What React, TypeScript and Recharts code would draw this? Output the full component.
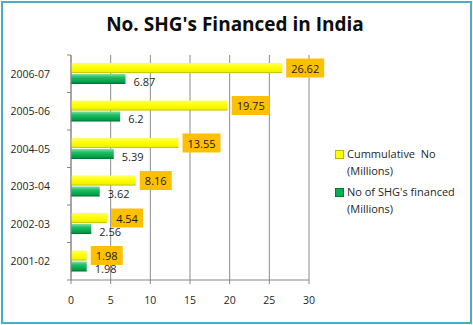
import { BarChart, Bar, XAxis, YAxis, CartesianGrid, Legend, LabelList } from 'recharts';

const years = ['2001-02', '2002-03', '2003-04', '2004-05', '2005-06', '2006-07'];
const cumulative = [1.98, 4.54, 8.16, 13.55, 19.75, 26.62];
const financed = [1.98, 2.56, 3.62, 5.39, 6.2, 6.87];
const xTicks = [0, 5, 10, 15, 20, 25, 30];

const data = years.map((year, i) => ({ year, cumulative: cumulative[i], financed: financed[i] }));

const FONT = '"Open Sans", "Noto Sans", sans-serif';
const PLOT_TOP = 55;
const PLOT_H = 225;
const BAND = PLOT_H / years.length;

const YTick = (props: any) => {
  const { x, y, payload, index } = props;
  const axisX = x + 21;
  return (
    <g>
      <line x1={axisX - 4} x2={axisX} y1={y - BAND / 2} y2={y - BAND / 2} stroke="#868686" />
      {index === 0 && (
        <line x1={axisX - 4} x2={axisX} y1={y + BAND / 2} y2={y + BAND / 2} stroke="#868686" />
      )}
      <text x={x} y={y} textAnchor="end" dominantBaseline="central" fontSize={10.5} fill="#262626" fontFamily={FONT}>
        {payload.value}
      </text>
    </g>
  );
};

// yellow bar label: orange box, plus the green value text drawn underneath it
// (green bar end found from the yellow bar's own scale ratio)
const YellowLabel = (props: any) => {
  const { x, y, width, height, value, index } = props;
  const text = Number(value).toFixed(2);
  const w = text.length * 6 + 8;
  const bx = x + width + 4;
  const cy = y + height / 2;
  const gEnd = x + (financed[index] / cumulative[index]) * width;
  const gy = y + height * 1.5 + 1 + 2;
  return (
    <g>
      <text x={gEnd + 8} y={gy} dominantBaseline="central" fontSize={11} fill="#262626" fontFamily={FONT}>
        {String(financed[index])}
      </text>
      <rect x={bx} y={cy - 9.5} width={w} height={19} fill="#FFC000" />
      <text x={bx + w / 2} y={cy} textAnchor="middle" dominantBaseline="central" fontSize={11} fill="#1a1a1a" fontFamily={FONT}>
        {text}
      </text>
    </g>
  );
};

const LegendBox = () => {
  const items = [
    { color: '#FFFF00', border: '#B8B800', lines: ['Cummulative  No', '(Millions)'] },
    { color: '#00B050', border: '#007A38', lines: ["No of SHG's financed", '(Millions)'] },
  ];
  return (
    <div style={{ fontFamily: FONT, fontSize: 11, color: '#262626', lineHeight: '16.5px' }}>
      {items.map((it, i) => (
        <div key={i} style={{ position: 'relative', paddingLeft: 14, marginBottom: i === 0 ? 5 : 0 }}>
          <span
            style={{
              position: 'absolute',
              left: 2,
              top: 4,
              width: 7,
              height: 7,
              background: it.color,
              border: `0.5px solid ${it.border}`,
            }}
          />
          {it.lines.map((l, j) => (
            <div key={j} style={{ whiteSpace: 'pre' }}>{l}</div>
          ))}
        </div>
      ))}
    </div>
  );
};

export default function App() {
  return (
    <div style={{ position: 'relative', width: 473, height: 325, background: '#fff' }}>
      <style>{`body{margin:0}`}</style>
      <div
        style={{
          position: 'absolute',
          left: 0,
          width: 470,
          top: 11,
          textAlign: 'center',
          fontFamily: FONT,
          fontWeight: 700,
          fontSize: 19,
          color: '#0d0d0d',
        }}
      >
        No. SHG's Financed in India
      </div>
      <BarChart
        width={473}
        height={325}
        data={data}
        layout="vertical"
        margin={{ top: PLOT_TOP, right: 164, bottom: 15, left: 0 }}
        barSize={10}
        barGap={1}
      >
        <defs>
          <linearGradient id="gYellow" x1="0" y1="0" x2="0" y2="1">
            <stop offset="0%" stopColor="#FFFF66" />
            <stop offset="45%" stopColor="#FFFF00" />
            <stop offset="85%" stopColor="#F2F200" />
            <stop offset="100%" stopColor="#B5B500" />
          </linearGradient>
          <linearGradient id="gGreen" x1="0" y1="0" x2="0" y2="1">
            <stop offset="0%" stopColor="#7FE0A6" />
            <stop offset="35%" stopColor="#1DBE62" />
            <stop offset="80%" stopColor="#00A04A" />
            <stop offset="100%" stopColor="#006B30" />
          </linearGradient>
        </defs>
        <CartesianGrid horizontal={false} stroke="#8C8C8C" />
        <XAxis
          type="number"
          domain={[0, 30]}
          ticks={xTicks}
          height={30}
          stroke="#868686"
          tickSize={4}
          tickMargin={13}
          tick={{ fontSize: 10.5, fill: '#262626', fontFamily: FONT }}
        />
        <YAxis
          type="category"
          dataKey="year"
          reversed
          width={71}
          stroke="#868686"
          tickLine={false}
          tickSize={0}
          tickMargin={21}
          tick={<YTick />}
        />
        <Legend
          layout="horizontal"
          verticalAlign="middle"
          wrapperStyle={{ left: 333, top: 146, width: 140 }}
          content={<LegendBox />}
        />
        <Bar dataKey="cumulative" fill="url(#gYellow)" isAnimationActive={false}>
          <LabelList dataKey="cumulative" content={<YellowLabel />} />
        </Bar>
        <Bar dataKey="financed" fill="url(#gGreen)" isAnimationActive={false} />
      </BarChart>
      <div
        style={{
          position: 'absolute',
          left: 1,
          top: 1,
          width: 471,
          height: 323,
          border: '2px solid #4BACC6',
          boxSizing: 'border-box',
          pointerEvents: 'none',
        }}
      />
    </div>
  );
}
